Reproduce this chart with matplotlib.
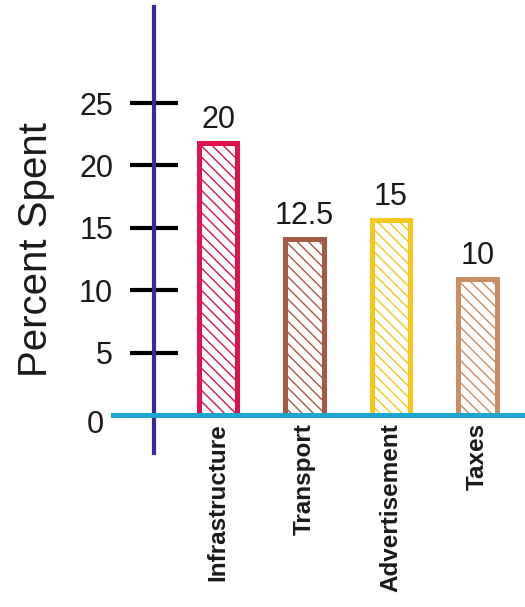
import numpy as np
import matplotlib
matplotlib.use('Agg')
import matplotlib.pyplot as plt

categories = ['Infrastructure', 'Transport', 'Advertisement', 'Taxes']
bar_heights = [21.8, 14.1, 15.6, 10.9]   # heights as drawn in the picture
value_labels = ['20', '12.5', '15', '10']
bar_colors = ['#E0124E', '#A65A43', '#F6C81E', '#C98F63']
y_ticks = [5, 10, 15, 20, 25]

plt.rcParams['font.family'] = ['Liberation Sans', 'DejaVu Sans']
plt.rcParams['hatch.linewidth'] = 1.0

W, H = 525, 607
fig = plt.figure(figsize=(W / 100, H / 100), dpi=100)
ax = fig.add_axes([113 / W, 1 - 453 / H, 412 / W, 446 / H])

x = np.arange(len(categories))
ax.bar(x, bar_heights, width=0.44, color='white', edgecolor=bar_colors,
       linewidth=3.6, hatch='\\\\\\', zorder=2)

for xi, h, lab in zip(x, bar_heights, value_labels):
    ax.annotate(lab, (xi, h), xytext=(0, 6), textcoords='offset points',
                ha='center', va='bottom', fontsize=22, color='#1a1a1a')

ax.set_xlim(-1.214, 3.549)
ax.set_ylim(-3.05, 32.7)

# axes lines
for s in ['top', 'right']:
    ax.spines[s].set_visible(False)
ax.spines['left'].set_position(('data', -0.74))
ax.spines['left'].set_color('#3B2A9C')
ax.spines['left'].set_linewidth(3.0)
ax.spines['left'].set_zorder(4)
ax.spines['bottom'].set_position(('data', 0))
ax.spines['bottom'].set_color('#1EA6D1')
ax.spines['bottom'].set_linewidth(3.6)
ax.spines['bottom'].set_zorder(5)

ax.set_yticks(y_ticks)
ax.set_yticklabels([str(t) for t in y_ticks])
ax.tick_params(axis='y', direction='inout', length=35, width=3.0,
               color='black', labelsize=22, labelcolor='#1a1a1a', pad=12)

ax.set_xticks(x)
ax.set_xticklabels(categories, rotation=90, va='top', ha='center',
                   fontsize=17.5, fontweight='bold', color='#1a1a1a')
ax.tick_params(axis='x', length=0, pad=6)

# the "0" sits just under the x axis, left of the y axis
ax.text(-1.32, 0.4, '0', ha='right', va='top', fontsize=22,
        color='#1a1a1a', clip_on=False)

fig.text(36 / W, 1 - 250 / H, 'Percent Spent', rotation=90, ha='center',
         va='center', fontsize=29, color='#1a1a1a')

fig.savefig('out.png', dpi=100)
